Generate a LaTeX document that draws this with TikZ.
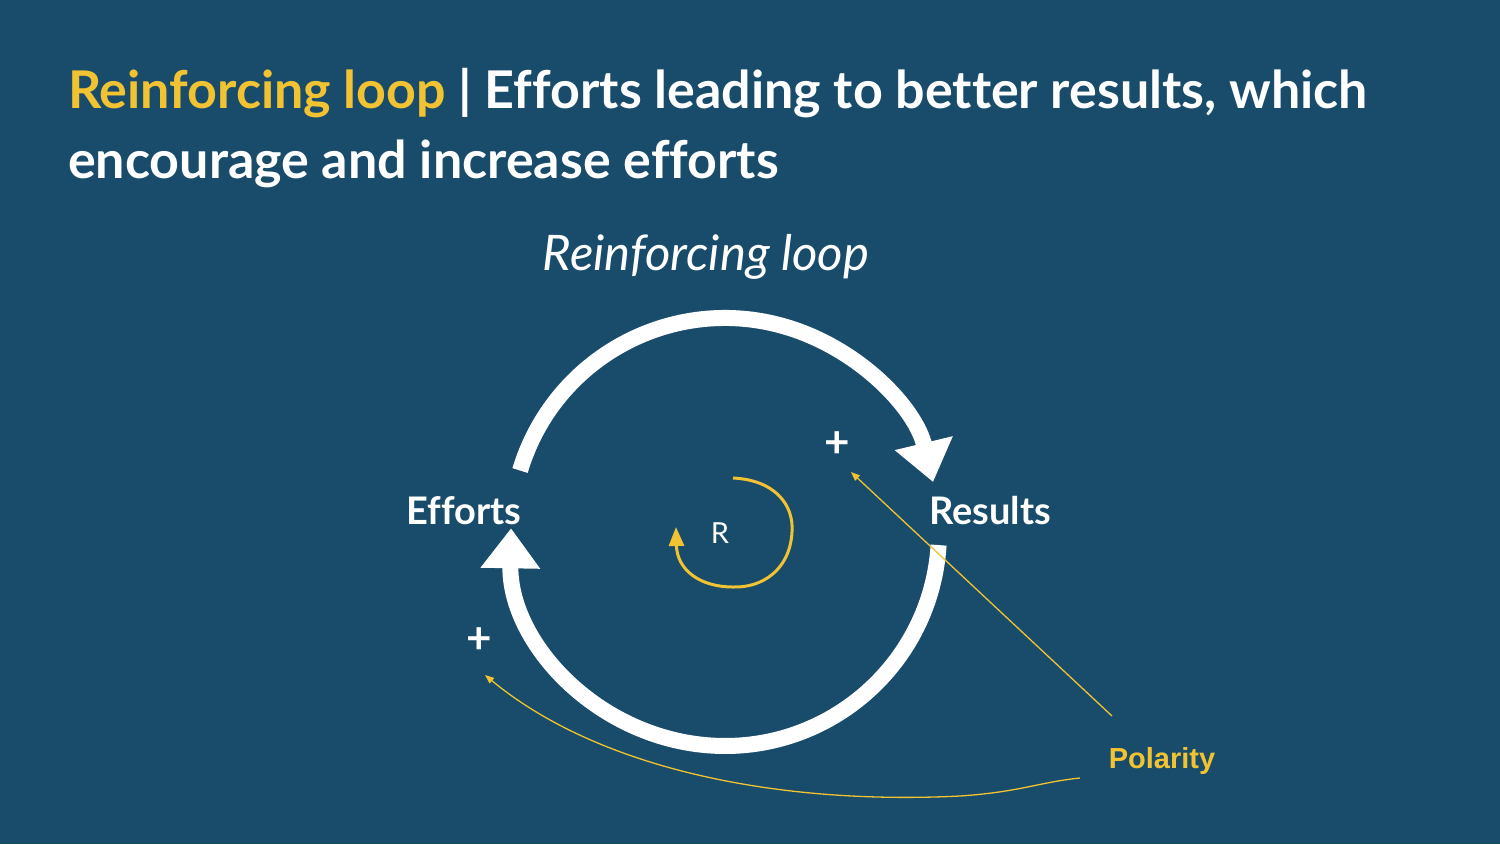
\documentclass[tikz,border=0pt]{standalone}
\usepackage{fontspec}
\setmainfont{Lato}[Ligatures=NoCommon]
\newfontfamily\arialfont{Liberation Sans}
\usetikzlibrary{positioning, arrows.meta}
\definecolor{loopbg}{RGB}{25,76,106}
\definecolor{loopgold}{RGB}{241,194,50}

\begin{document}
\begin{tikzpicture}[x=1pt, y=1pt,
    bigarc/.style={white, line width=16pt},
    var/.style={text=white, inner sep=0pt, font=\fontsize{38}{38}\selectfont\bfseries},
    sign/.style={text=white, inner sep=0pt, font=\fontsize{44}{44}\selectfont\bfseries},
    pointer/.style={loopgold, line width=1.3pt, -{Triangle[length=9pt,width=7pt]}}]
  % background
  \fill[loopbg] (0,0) rectangle (1500,-844);
  \useasboundingbox (0,0) rectangle (1500,-844);

  % heading
  \node[anchor=base west, inner sep=0pt, text=white, font=\fontsize{52}{52}\selectfont\bfseries] (title) at (68,-108)
    {\textcolor{loopgold}{Reinforcing loop} | Efforts leading to better results, which};
  \node[anchor=base west, inner sep=0pt, text=white, font=\fontsize{52}{52}\selectfont\bfseries] (title2) at (68,-178)
    {encourage and increase efforts};
  \node[anchor=base, inner sep=0pt, text=white, font=\fontsize{49}{49}\selectfont\itshape] (caption) at (706,-270)
    {Reinforcing loop};

  % the loop
  \coordinate (c) at (725,-532);
  \node[var] (efforts) at (464,-511) {Efforts};
  \node[var] (results) at (990,-511) {Results};
  \draw[bigarc, -{Triangle[width=57pt,length=40pt]}] ([shift={(163.3:214)}]c)
    arc[start angle=163.3, end angle=13.5, radius=214];
  \draw[bigarc, -{Triangle[width=57pt,length=40pt]}] ([shift={(-3.5:214)}]c)
    arc[start angle=-3.5, end angle=-181, radius=214];
  \node[sign] (plusup) at (837,-445) {+};
  \node[sign] (pluslow) at (479,-641) {+};

  % R marker
  \node[text=white, inner sep=0pt, font=\fontsize{29}{29}\selectfont] (R) at (720,-533) {R};
  \draw[loopgold, line width=3pt, -{Triangle[length=19pt,width=15pt]}]
    (733,-478) .. controls (775,-480) and (794,-505) .. (792,-532)
    .. controls (790,-570) and (762,-588) .. (733,-587)
    .. controls (700,-587) and (677,-570) .. (676,-527);

  % polarity
  \node[text=loopgold, inner sep=0pt, font=\arialfont\fontsize{29}{29}\selectfont\bfseries] (polarity) at (1162,-761) {Polarity};
  \coordinate (polup) at (1112,-716);
  \coordinate (pollow) at (1080,-778);
  \coordinate (tipup) at (851,-472);
  \coordinate (tiplow) at (485,-675);
  \draw[pointer] (polup) -- (tipup);
  \draw[pointer] (pollow) .. controls (1040,-782) and (1020,-792) .. (960,-796)
    .. controls (780,-805) and (600,-770) .. (tiplow);
\end{tikzpicture}
\end{document}
